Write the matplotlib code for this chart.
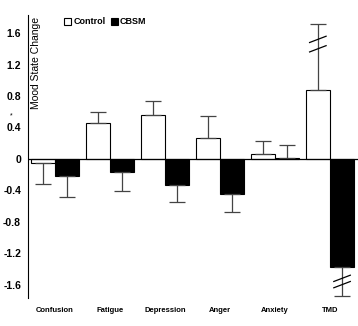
import matplotlib.pyplot as plt
import numpy as np
from matplotlib.patches import Patch

plt.rcParams['font.family'] = ['Liberation Sans', 'DejaVu Sans']

categories = ['Confusion', 'Fatigue', 'Depression', 'Anger', 'Anxiety', 'TMD']
control = [-0.05, 0.45, 0.56, 0.26, 0.06, 0.88]
control_err = [0.27, 0.15, 0.18, 0.29, 0.17, 0.83]
cbsm = [-0.22, -0.17, -0.33, -0.45, 0.01, -1.38]
cbsm_err = [0.27, 0.24, 0.22, 0.22, 0.17, 0.37]
yticks = [-1.6, -1.2, -0.8, -0.4, 0, 0.4, 0.8, 1.2, 1.6]

x = np.arange(len(categories))
w = 0.44

fig = plt.figure(figsize=(3.58, 3.26), dpi=100)
ax = fig.add_axes([28 / 358, 28 / 326, 330 / 358, 283 / 326])

ax.bar(x - w / 2, control, w, color='white', edgecolor='black', linewidth=0.8)
ax.bar(x + w / 2, cbsm, w, color='black', edgecolor='black', linewidth=0.8)

# error bars point away from zero
for xi, v, e in zip(x - w / 2, control, control_err):
    ax.errorbar(xi, v, yerr=[[0], [e]] if v >= 0 else [[e], [0]], fmt='none',
                ecolor='#444444', elinewidth=0.9, capsize=6, capthick=0.9)
for xi, v, e in zip(x + w / 2, cbsm, cbsm_err):
    ax.errorbar(xi, v, yerr=[[0], [e]] if v >= 0 else [[e], [0]], fmt='none',
                ecolor='#444444', elinewidth=0.9, capsize=6, capthick=0.9)

# axis break marks on the TMD error bars
for xi, ys in [(x[5] - w / 2, [1.52, 1.40]), (x[5] + w / 2, [-1.52, -1.60])]:
    for yb in ys:
        ax.plot([xi - 0.15, xi + 0.15], [yb - 0.04, yb + 0.04], color='black', lw=0.9)

ax.axhline(0, color='black', lw=0.9)
ax.set_xlim(-0.49, 5.51)
ax.set_ylim(-1.77, 1.83)
ax.set_yticks(yticks)
ax.set_yticklabels(['%g' % t for t in yticks], fontsize=7.5, fontweight='bold')
ax.tick_params(axis='y', length=0, pad=5)
ax.set_xticks([])
for spine in ['top', 'right', 'bottom']:
    ax.spines[spine].set_visible(False)
ax.spines['left'].set_linewidth(0.8)

for xi, name in zip(x, categories):
    ax.text(xi, -1.93, name, ha='center', va='center', fontsize=5.5,
            fontweight='bold', clip_on=False)

ax.text(-0.34, 1.80, 'Mood State Change', rotation=90, ha='center', va='top',
        fontsize=7.5)
ax.text(-0.8, 0.55, '*', ha='center', va='center', fontsize=5, clip_on=False)

handles = [Patch(facecolor='white', edgecolor='black', lw=0.8),
           Patch(facecolor='black', edgecolor='black', lw=0.8)]
ax.legend(handles, ['Control', 'CBSM'], ncol=2, frameon=False,
          loc='upper left', bbox_to_anchor=(0.085, 1.02),
          prop={'size': 6.5, 'weight': 'bold'}, handlelength=0.8,
          handleheight=0.8, handletextpad=0.2, columnspacing=0.6)

plt.savefig('out.png', dpi=100)
